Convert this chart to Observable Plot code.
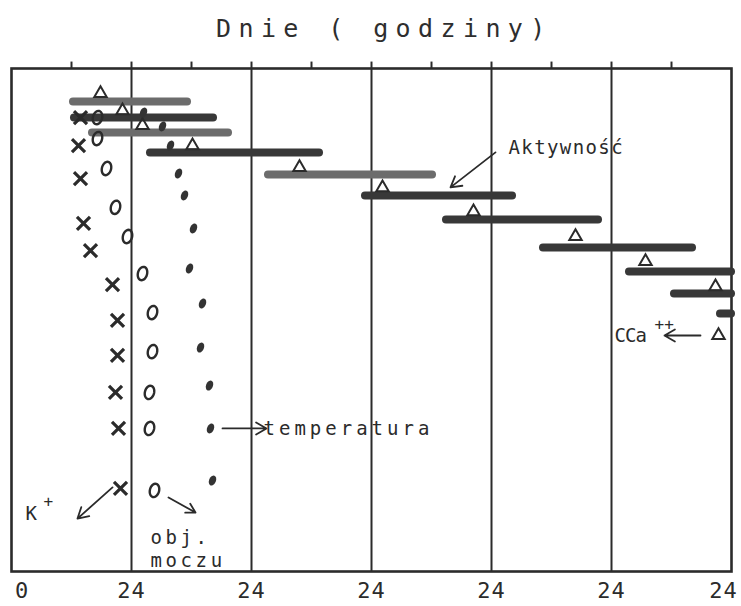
<!DOCTYPE html>
<html>
<head>
<meta charset="utf-8">
<script src="https://cdn.jsdelivr.net/npm/d3@7"></script>
<script src="https://cdn.jsdelivr.net/npm/@observablehq/plot@0.6"></script>
<style>
  html, body { margin: 0; padding: 0; background: #ffffff; }
  #wrap { position: relative; width: 741px; height: 606px; }
  #title { position: absolute; left: 216px; top: 16px; font-family: "DejaVu Sans Mono", monospace;
           font-size: 25px; line-height: 25px; letter-spacing: 7.4px; color: #2e2e2e; white-space: pre; }
  #chart { position: absolute; left: 0; top: 50px; }
</style>
</head>
<body>
<div id="wrap">
  <div id="title">Dnie ( godziny)</div>
  <div id="chart"></div>
</div>
<script>
// ---- axis ticks (hours) ----
const hourTicks = [0, 24, 48, 72, 96, 120, 144];
const hourTickLabels = ["0", "24", "24", "24", "24", "24", "24"];
const halfDayTicks = [12, 24, 36, 48, 60, 72, 84, 96, 108, 120, 132];
const dayLines = [24, 48, 72, 96, 120];

// ---- activity bars (Aktywność) ----
const activityDay = [1.64, 2.44, 3.18, 4.17, 5.27, 6.31, 7.50, 8.90, 10.09, 11.18, 12.18];
const activityStart = [12.4, 12.6, 16.2, 27.8, 51.4, 70.8, 87.0, 106.4, 123.6, 132.6, 141.8];
const activityEnd = [35.2, 40.4, 43.4, 61.6, 84.2, 100.2, 117.4, 136.2, 144, 144, 144];

// ---- calcium (triangles, CCa++) ----
const calciumDay = [1.24, 2.09, 2.83, 3.83, 4.92, 5.92, 7.11, 8.35, 9.59, 10.84, 13.27];
const calciumHour = [17.8, 22.2, 26.2, 36.2, 57.6, 74.2, 92.4, 112.8, 126.8, 140.8, 141.4];

// ---- temperature (filled dots) ----
const temperatureDay = [2.19, 2.88, 3.83, 5.22, 6.31, 7.95, 9.94, 11.68, 13.87, 15.76, 17.89, 20.48];
const temperatureHour = [26.4, 30.2, 31.8, 33.4, 34.6, 36.4, 35.6, 38.2, 37.8, 39.6, 39.8, 40.2];

// ---- potassium K+ (crosses) ----
const potassiumDay = [2.44, 3.83, 5.47, 7.70, 9.05, 10.74, 12.52, 14.26, 16.10, 17.89, 20.87];
const potassiumHour = [13.8, 13.4, 13.8, 14.4, 15.8, 20.2, 21.2, 21.2, 20.8, 21.4, 21.8];

// ---- urine volume (open circles, obj. moczu) ----
const urineDay = [2.44, 3.48, 4.97, 6.90, 8.35, 10.19, 12.13, 14.07, 16.10, 17.89, 20.97];
const urineHour = [17.2, 17.2, 19.0, 20.8, 23.2, 26.2, 28.2, 28.2, 27.6, 27.6, 28.6];

// ---- annotations ----
const labelText = ["Aktywność", "CCa", "temperatura", "K", "obj.", "moczu"];
const labelHour = [99.4, 120.6, 50.4, 2.8, 27.8, 27.8];
const labelDay = [3.93, 13.27, 17.89, 22.12, 23.31, 24.45];
const supText = ["++", "+"];
const supHour = [128.6, 6.4];
const supDay = [12.72, 21.55];
const arrowFromHour = [96.8, 137.8, 42.2, 20.2, 31.4];
const arrowFromDay = [4.17, 13.27, 17.89, 20.82, 21.32];
const arrowToHour = [87.8, 130.6, 51.0, 13.2, 36.8];
const arrowToDay = [5.91, 13.27, 17.89, 22.37, 22.07];

// ---------------------------------------------------------------
const ink = "#2b2b2b";
const bars = activityDay.map((d, i) => ({day: d, start: activityStart[i], end: activityEnd[i], i}));
const tri = calciumDay.map((d, i) => ({day: d, hour: calciumHour[i]}));
const temp = temperatureDay.map((d, i) => ({day: d, hour: temperatureHour[i]}));
const pot = potassiumDay.map((d, i) => ({day: d, hour: potassiumHour[i]}));
const uri = urineDay.map((d, i) => ({day: d, hour: urineHour[i]}));
const labels = labelText.map((t, i) => ({text: t, hour: labelHour[i], day: labelDay[i]}));
const sups = supText.map((t, i) => ({text: t, hour: supHour[i], day: supDay[i]}));
const arrows = arrowFromHour.map((h, i) => ({h1: h, d1: arrowFromDay[i], h2: arrowToHour[i], d2: arrowToDay[i]}));
const ticks = hourTicks.map((h, i) => ({hour: h, label: hourTickLabels[i], i}));

function ellipse(rx, ry, deg) {
  return {
    draw(ctx, size) {
      const k = Math.sqrt(size / Math.PI) / 5;
      const a = deg * Math.PI / 180, n = 28;
      for (let j = 0; j < n; j++) {
        const t = 2 * Math.PI * j / n;
        const x0 = rx * k * Math.cos(t), y0 = ry * k * Math.sin(t);
        const x = x0 * Math.cos(a) - y0 * Math.sin(a);
        const y = x0 * Math.sin(a) + y0 * Math.cos(a);
        j ? ctx.lineTo(x, y) : ctx.moveTo(x, y);
      }
      ctx.closePath();
    }
  };
}
const lightBars = new Set([0, 2, 4]);
const font = "DejaVu Sans Mono";

const chart = Plot.plot({
  width: 741,
  height: 556,
  marginTop: 18,
  marginBottom: 35,
  marginLeft: 11,
  marginRight: 10,
  x: {domain: [0, 144], axis: null},
  y: {domain: [0, 25], reverse: true, axis: null},
  style: {background: "white", color: ink, fontFamily: font},
  marks: [
    Plot.ruleX(dayLines, {stroke: ink, strokeWidth: 2}),
    Plot.ruleX(halfDayTicks, {y1: 0, y2: -0.32, stroke: ink, strokeWidth: 2}),
    Plot.frame({stroke: ink, strokeWidth: 2.6}),
    Plot.ruleY(bars, {y: "day", x1: "start", x2: "end", strokeWidth: 8, strokeLinecap: "round",
      stroke: d => lightBars.has(d.i) ? "#6c6c6c" : "#383838"}),
    Plot.dot(tri, {x: "hour", y: "day", symbol: "triangle", r: 4.6, fill: "none", stroke: ink, strokeWidth: 2}),
    Plot.dot(temp, {x: "hour", y: "day", symbol: ellipse(3.4, 5.2, 22), r: 5, fill: "#333", stroke: "none"}),
    Plot.dot(uri, {x: "hour", y: "day", symbol: ellipse(4.6, 6.8, 15), r: 5, fill: "none", stroke: ink, strokeWidth: 2.4}),
    Plot.dot(pot, {x: "hour", y: "day", symbol: "times", r: 6, stroke: ink, strokeWidth: 3.2}),
    Plot.arrow(arrows, {x1: "h1", y1: "d1", x2: "h2", y2: "d2", stroke: ink, strokeWidth: 1.8, headLength: 10}),
    Plot.text(labels, {x: "hour", y: "day", text: "text", textAnchor: "start", fontSize: 19, fill: ink, fontFamily: font}),
    Plot.text(sups, {x: "hour", y: "day", text: "text", textAnchor: "start", fontSize: 16, fill: ink, fontFamily: font}),
    Plot.text(ticks.filter(d => d.i === 0), {x: "hour", text: "label", frameAnchor: "bottom", dy: 26, dx: 10,
      fontSize: 22, fill: ink, fontFamily: font}),
    Plot.text(ticks.filter(d => d.i > 0 && d.i < 6), {x: "hour", text: "label", frameAnchor: "bottom", dy: 26,
      fontSize: 22, fill: ink, fontFamily: font}),
    Plot.text(ticks.filter(d => d.i === 6), {x: "hour", text: "label", frameAnchor: "bottom", dy: 26, dx: -8,
      fontSize: 22, fill: ink, fontFamily: font})
  ]
});
document.getElementById("chart").appendChild(chart);

// letter spacing for the typewriter-like labels
const spacing = {"Aktywność": 1.4, "CCa": -1, "temperatura": 4, "K": 0, "obj.": 3.6, "moczu": 3.6, "24": 1, "++": 0, "+": 0};
d3.select(chart).selectAll("text").each(function() {
  const t = this.textContent;
  if (spacing[t] !== undefined) d3.select(this).attr("letter-spacing", spacing[t]);
});
</script>
</body>
</html>
